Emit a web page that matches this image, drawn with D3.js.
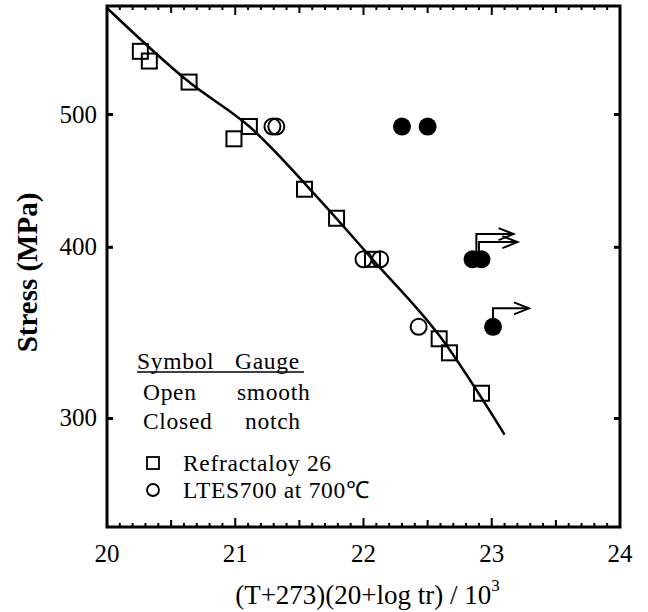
<!DOCTYPE html>
<html>
<head>
<meta charset="utf-8">
<script src="https://cdn.jsdelivr.net/npm/d3@7"></script>
<style>
  body { margin: 0; background: #fff; }
  text { font-family: "Liberation Serif", "Times New Roman", serif; fill: #000; }
</style>
</head>
<body>
<div id="chart"></div>
<script>
// axis ticks
const xTicks = [20, 21, 22, 23, 24];
const yTicks = [300, 400, 500];

// Refractaloy 26, smooth (open squares): [LMP, stress]
const refractaloy = [[20.26, 556], [20.33, 547], [20.64, 528], [20.99, 480], [21.11, 490],
  [21.54, 441], [21.79, 420], [22.07, 392], [22.59, 343], [22.67, 335], [22.92, 313]];
// LTES700 smooth (open circles)
const ltesSmooth = [[21.29, 490], [21.32, 490], [22.0, 392], [22.13, 392], [22.43, 350]];
// LTES700 notch (closed circles)
const ltesNotch = [[22.30, 490], [22.50, 490], [22.85, 392], [22.92, 392], [23.01, 350]];
// run-out arrows: start point and arrow tip
const runouts = [
  {x0: 22.88, s0: 392, x1: 23.17, s1: 409},
  {x0: 22.90, s0: 392, x1: 23.20, s1: 403.5},
  {x0: 23.01, s0: 350, x1: 23.29, s1: 361}
];
// master curve
const fitLine = [[20.0, 598], [20.64, 528], [21.11, 490], [21.66, 433], [22.07, 392], [22.6, 344], [23.1, 292]];

const gaugeRows = [["Symbol", "Gauge"], ["Open", "smooth"], ["Closed", "notch"]];
const seriesNames = ["Refractaloy 26", "LTES700 at 700\u2103"];

const width = 648, height = 612;
const margin = {top: 6, right: 28, bottom: 85, left: 107};

const svg = d3.select("#chart").append("svg")
  .attr("width", width)
  .attr("height", height);

const x = d3.scaleLinear().domain([20, 24]).range([margin.left, width - margin.right]);
const y = d3.scaleLog().domain([250, 600]).range([height - margin.bottom, margin.top]);

// minor ticks every 0.1 on top and bottom
const minor = d3.range(200, 241).map(d => d / 10);
const tickLen = function(d) {
  if (Math.abs(d - Math.round(d)) < 1e-6) return 9;
  if (Math.abs(d * 2 - Math.round(d * 2)) < 1e-6) return 7;
  return 4;
};

const bottomY = y.range()[0], topY = y.range()[1];

svg.append("g").selectAll("line.tb").data(minor).enter().append("line")
  .attr("x1", d => x(d)).attr("x2", d => x(d))
  .attr("y1", bottomY).attr("y2", d => bottomY - tickLen(d))
  .attr("stroke", "#000").attr("stroke-width", 2);
svg.append("g").selectAll("line.tt").data(minor).enter().append("line")
  .attr("x1", d => x(d)).attr("x2", d => x(d))
  .attr("y1", topY).attr("y2", d => topY + tickLen(d))
  .attr("stroke", "#000").attr("stroke-width", 2);

// y ticks left & right
svg.append("g").selectAll("line").data(yTicks).enter().append("line")
  .attr("x1", x(20)).attr("x2", x(20) + 6)
  .attr("y1", d => y(d)).attr("y2", d => y(d))
  .attr("stroke", "#000").attr("stroke-width", 3);
svg.append("g").selectAll("line").data(yTicks).enter().append("line")
  .attr("x1", x(24)).attr("x2", x(24) - 6)
  .attr("y1", d => y(d)).attr("y2", d => y(d))
  .attr("stroke", "#000").attr("stroke-width", 3);

// frame
svg.append("rect")
  .attr("x", x(20)).attr("y", topY)
  .attr("width", x(24) - x(20)).attr("height", bottomY - topY)
  .attr("fill", "none").attr("stroke", "#000").attr("stroke-width", 3);

// tick labels
svg.append("g").selectAll("text").data(xTicks).enter().append("text")
  .attr("x", d => x(d)).attr("y", bottomY + 35)
  .attr("text-anchor", "middle")
  .style("font-size", "25px")
  .text(d => d);
svg.append("g").selectAll("text").data(yTicks).enter().append("text")
  .attr("x", x(20) - 10).attr("y", d => y(d) + 8)
  .attr("text-anchor", "end")
  .style("font-size", "25px")
  .text(d => d);

// axis titles
const xt = svg.append("text")
  .attr("x", (x(20) + x(24)) / 2 + 4).attr("y", 604)
  .attr("text-anchor", "middle")
  .style("font-size", "27px");
xt.append("tspan").text("(T+273)(20+log tr) / 10");
xt.append("tspan").attr("dy", -13).style("font-size", "17px").text("3");

svg.append("text")
  .attr("transform", "translate(37," + ((topY + bottomY) / 2 + 6) + ") rotate(-90)")
  .attr("text-anchor", "middle")
  .style("font-size", "29px").style("font-weight", "bold")
  .text("Stress (MPa)");

// master curve
const line = d3.line().x(d => x(d[0])).y(d => y(d[1])).curve(d3.curveMonotoneX);
svg.append("path").datum(fitLine)
  .attr("d", line)
  .attr("fill", "none").attr("stroke", "#000").attr("stroke-width", 2.5);

// markers
const sq = 15;
svg.append("g").selectAll("rect").data(refractaloy).enter().append("rect")
  .attr("x", d => x(d[0]) - sq / 2).attr("y", d => y(d[1]) - sq / 2)
  .attr("width", sq).attr("height", sq)
  .attr("fill", "none").attr("stroke", "#000").attr("stroke-width", 2);

svg.append("g").selectAll("circle").data(ltesSmooth).enter().append("circle")
  .attr("cx", d => x(d[0])).attr("cy", d => y(d[1])).attr("r", 8)
  .attr("fill", "none").attr("stroke", "#000").attr("stroke-width", 2);

svg.append("g").selectAll("circle").data(ltesNotch).enter().append("circle")
  .attr("cx", d => x(d[0])).attr("cy", d => y(d[1])).attr("r", 9)
  .attr("fill", "#000");

// run-out arrows
const arrows = svg.append("g").attr("fill", "none").attr("stroke", "#000").attr("stroke-width", 2);
runouts.forEach(function(a) {
  const px0 = x(a.x0), py0 = y(a.s0), px1 = x(a.x1), py1 = y(a.s1);
  arrows.append("path").attr("d", "M" + px0 + "," + py0 + "V" + py1 + "H" + px1);
  arrows.append("path").attr("d", "M" + (px1 - 15) + "," + (py1 - 6) + "L" + px1 + "," + py1 + "L" + (px1 - 15) + "," + (py1 + 6));
});

// legend
const lg = svg.append("g").style("font-size", "23.5px").style("letter-spacing", "0.7px");
const rowY = [369, 400, 429];
gaugeRows.forEach(function(r, i) {
  lg.append("text").attr("x", i === 0 ? 137 : 143).attr("y", rowY[i]).text(r[0]);
  lg.append("text").attr("x", i === 0 ? 235 : (i === 1 ? 237 : 245)).attr("y", rowY[i]).text(r[1]);
});
lg.append("line").attr("x1", 137).attr("x2", 304).attr("y1", 372).attr("y2", 372)
  .attr("stroke", "#000").attr("stroke-width", 1.5);

lg.append("rect").attr("x", 147).attr("y", 457).attr("width", 12).attr("height", 12)
  .attr("fill", "none").attr("stroke", "#000").attr("stroke-width", 1.8);
lg.append("circle").attr("cx", 153).attr("cy", 490).attr("r", 6)
  .attr("fill", "none").attr("stroke", "#000").attr("stroke-width", 1.8);
seriesNames.forEach(function(n, i) {
  lg.append("text").attr("x", 183).attr("y", 471 + i * 27).text(n);
});
</script>
</body>
</html>
